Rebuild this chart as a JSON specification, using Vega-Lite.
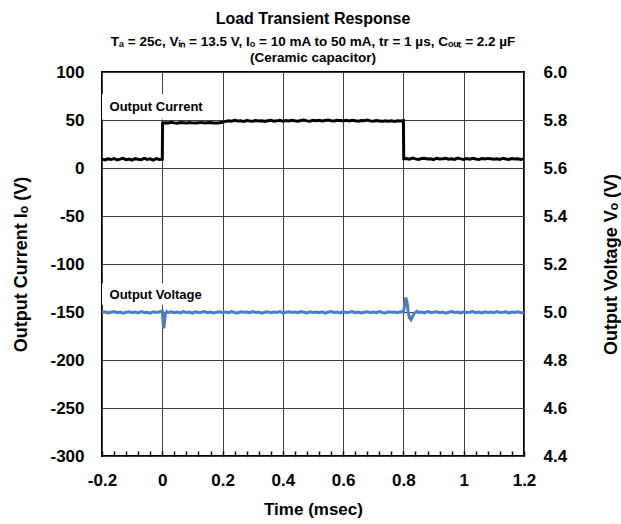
{
  "$schema": "https://vega.github.io/schema/vega-lite/v6.json",
  "width": 422,
  "height": 384,
  "autosize": {"type": "none"},
  "padding": {"left": 102, "top": 72, "right": 97, "bottom": 68},
  "config": {
    "font": "Liberation Sans",
    "view": {"stroke": "black", "strokeWidth": 2},
    "axis": {
      "labelFont": "Liberation Sans",
      "labelFontWeight": "bold",
      "labelFontSize": 17,
      "labelColor": "black",
      "titleFont": "Liberation Sans",
      "titleFontWeight": "bold",
      "titleFontSize": 17,
      "titleColor": "black",
      "domain": false,
      "ticks": false,
      "labelFlush": false,
      "gridColor": "#404040",
      "gridOpacity": 1,
      "gridWidth": 1
    }
  },
  "title": {
    "text": "Load Transient Response",
    "subtitle": ["Tₐ = 25c, Vᵢₙ = 13.5 V, Iₒ = 10 mA to 50 mA, tr = 1 µs, Cₒᵤₜ = 2.2 µF", "(Ceramic capacitor)"],
    "font": "Liberation Sans",
    "fontSize": 16,
    "fontWeight": "bold",
    "color": "black",
    "subtitleFont": "Liberation Sans",
    "subtitleFontSize": 13.5,
    "subtitleFontWeight": "bold",
    "subtitleColor": "black",
    "subtitleLineHeight": 16,
    "subtitlePadding": 8,
    "offset": -1
  },
  "datasets": {
    "current": [
      {"t": -0.2, "i": 9.3}, {"t": -0.19, "i": 8.4}, {"t": -0.18, "i": 9.6}, {"t": -0.17, "i": 8.8}, {"t": -0.16, "i": 9.9},
      {"t": -0.15, "i": 8.5}, {"t": -0.14, "i": 9.2}, {"t": -0.13, "i": 10.1}, {"t": -0.12, "i": 8.7}, {"t": -0.11, "i": 9.4},
      {"t": -0.1, "i": 8.3}, {"t": -0.09, "i": 9.7}, {"t": -0.08, "i": 9.0}, {"t": -0.07, "i": 8.6}, {"t": -0.06, "i": 10.0},
      {"t": -0.05, "i": 8.9}, {"t": -0.04, "i": 9.5}, {"t": -0.03, "i": 8.2}, {"t": -0.02, "i": 9.8}, {"t": -0.01, "i": 8.8},
      {"t": 0.0, "i": 9.1}, {"t": 0.001, "i": 47.0},
      {"t": 0.01, "i": 47.2}, {"t": 0.02, "i": 46.8}, {"t": 0.03, "i": 47.5}, {"t": 0.04, "i": 47.0}, {"t": 0.05, "i": 46.7},
      {"t": 0.06, "i": 47.3}, {"t": 0.07, "i": 47.1}, {"t": 0.08, "i": 46.9}, {"t": 0.09, "i": 47.4}, {"t": 0.1, "i": 47.0},
      {"t": 0.11, "i": 46.8}, {"t": 0.12, "i": 47.2}, {"t": 0.13, "i": 47.5}, {"t": 0.14, "i": 46.9}, {"t": 0.15, "i": 47.1},
      {"t": 0.16, "i": 47.3}, {"t": 0.17, "i": 46.8}, {"t": 0.18, "i": 47.0}, {"t": 0.19, "i": 47.2}, {"t": 0.2, "i": 47.6},
      {"t": 0.21, "i": 48.6}, {"t": 0.22, "i": 49.3}, {"t": 0.23, "i": 48.8}, {"t": 0.24, "i": 49.6}, {"t": 0.25, "i": 48.9},
      {"t": 0.26, "i": 49.2}, {"t": 0.27, "i": 48.5}, {"t": 0.28, "i": 49.4}, {"t": 0.29, "i": 49.0}, {"t": 0.3, "i": 48.7},
      {"t": 0.31, "i": 49.5}, {"t": 0.32, "i": 48.9}, {"t": 0.33, "i": 49.2}, {"t": 0.34, "i": 48.6}, {"t": 0.35, "i": 49.3},
      {"t": 0.36, "i": 49.8}, {"t": 0.37, "i": 48.8}, {"t": 0.38, "i": 49.1}, {"t": 0.39, "i": 49.6}, {"t": 0.4, "i": 48.7},
      {"t": 0.41, "i": 49.4}, {"t": 0.42, "i": 48.9}, {"t": 0.43, "i": 49.7}, {"t": 0.44, "i": 49.2}, {"t": 0.45, "i": 48.8},
      {"t": 0.46, "i": 49.5}, {"t": 0.47, "i": 49.9}, {"t": 0.48, "i": 49.1}, {"t": 0.49, "i": 48.7}, {"t": 0.5, "i": 49.6},
      {"t": 0.51, "i": 49.3}, {"t": 0.52, "i": 49.8}, {"t": 0.53, "i": 49.0}, {"t": 0.54, "i": 49.5}, {"t": 0.55, "i": 49.9},
      {"t": 0.56, "i": 49.2}, {"t": 0.57, "i": 48.9}, {"t": 0.58, "i": 49.7}, {"t": 0.59, "i": 49.4}, {"t": 0.6, "i": 49.1},
      {"t": 0.61, "i": 49.6}, {"t": 0.62, "i": 49.0}, {"t": 0.63, "i": 49.8}, {"t": 0.64, "i": 49.3}, {"t": 0.65, "i": 48.8},
      {"t": 0.66, "i": 49.5}, {"t": 0.67, "i": 49.2}, {"t": 0.68, "i": 49.9}, {"t": 0.69, "i": 49.1}, {"t": 0.7, "i": 48.7},
      {"t": 0.71, "i": 49.4}, {"t": 0.72, "i": 49.0}, {"t": 0.73, "i": 48.6}, {"t": 0.74, "i": 49.3}, {"t": 0.75, "i": 48.8},
      {"t": 0.76, "i": 49.1}, {"t": 0.77, "i": 48.5}, {"t": 0.78, "i": 49.2}, {"t": 0.79, "i": 48.9}, {"t": 0.8, "i": 49.3},
      {"t": 0.801, "i": 9.8},
      {"t": 0.81, "i": 9.9}, {"t": 0.82, "i": 9.2}, {"t": 0.83, "i": 10.3}, {"t": 0.84, "i": 9.5}, {"t": 0.85, "i": 8.9},
      {"t": 0.86, "i": 9.8}, {"t": 0.87, "i": 10.1}, {"t": 0.88, "i": 9.3}, {"t": 0.89, "i": 9.7}, {"t": 0.9, "i": 8.8},
      {"t": 0.91, "i": 10.2}, {"t": 0.92, "i": 9.4}, {"t": 0.93, "i": 9.6}, {"t": 0.94, "i": 10.0}, {"t": 0.95, "i": 9.1},
      {"t": 0.96, "i": 9.7}, {"t": 0.97, "i": 8.9}, {"t": 0.98, "i": 10.3}, {"t": 0.99, "i": 9.5}, {"t": 1.0, "i": 9.0},
      {"t": 1.01, "i": 9.8}, {"t": 1.02, "i": 9.2}, {"t": 1.03, "i": 10.1}, {"t": 1.04, "i": 9.4}, {"t": 1.05, "i": 8.8},
      {"t": 1.06, "i": 9.9}, {"t": 1.07, "i": 9.3}, {"t": 1.08, "i": 10.0}, {"t": 1.09, "i": 9.6}, {"t": 1.1, "i": 9.1},
      {"t": 1.11, "i": 9.7}, {"t": 1.12, "i": 8.9}, {"t": 1.13, "i": 10.2}, {"t": 1.14, "i": 9.4}, {"t": 1.15, "i": 9.0},
      {"t": 1.16, "i": 9.8}, {"t": 1.17, "i": 9.3}, {"t": 1.18, "i": 9.6}, {"t": 1.19, "i": 8.9}, {"t": 1.2, "i": 9.5}
    ],
    "voltage": [
      {"t": -0.2, "v": 4.998}, {"t": -0.19, "v": 5.001}, {"t": -0.18, "v": 4.996}, {"t": -0.17, "v": 4.999}, {"t": -0.16, "v": 5.002},
      {"t": -0.15, "v": 4.997}, {"t": -0.14, "v": 5.0}, {"t": -0.13, "v": 4.995}, {"t": -0.12, "v": 4.999}, {"t": -0.11, "v": 5.001},
      {"t": -0.1, "v": 4.997}, {"t": -0.09, "v": 5.0}, {"t": -0.08, "v": 4.996}, {"t": -0.07, "v": 5.002}, {"t": -0.06, "v": 4.998},
      {"t": -0.05, "v": 4.999}, {"t": -0.04, "v": 4.995}, {"t": -0.03, "v": 5.001}, {"t": -0.02, "v": 4.998}, {"t": -0.01, "v": 5.0},
      {"t": 0.0, "v": 5.004}, {"t": 0.003, "v": 4.95}, {"t": 0.005, "v": 4.932}, {"t": 0.007, "v": 4.955}, {"t": 0.01, "v": 4.992},
      {"t": 0.015, "v": 5.002}, {"t": 0.02, "v": 4.998},
      {"t": 0.03, "v": 5.001}, {"t": 0.04, "v": 4.997}, {"t": 0.05, "v": 5.0}, {"t": 0.06, "v": 4.996}, {"t": 0.07, "v": 5.002},
      {"t": 0.08, "v": 4.998}, {"t": 0.09, "v": 5.0}, {"t": 0.1, "v": 4.995}, {"t": 0.11, "v": 5.001}, {"t": 0.12, "v": 4.998},
      {"t": 0.13, "v": 4.999}, {"t": 0.14, "v": 5.002}, {"t": 0.15, "v": 4.997}, {"t": 0.16, "v": 5.0}, {"t": 0.17, "v": 4.996},
      {"t": 0.18, "v": 4.999}, {"t": 0.19, "v": 5.001}, {"t": 0.2, "v": 4.998}, {"t": 0.21, "v": 5.0}, {"t": 0.22, "v": 4.997},
      {"t": 0.23, "v": 5.002}, {"t": 0.24, "v": 4.998}, {"t": 0.25, "v": 4.996}, {"t": 0.26, "v": 5.001}, {"t": 0.27, "v": 4.999},
      {"t": 0.28, "v": 5.0}, {"t": 0.29, "v": 4.997}, {"t": 0.3, "v": 5.002}, {"t": 0.31, "v": 4.998}, {"t": 0.32, "v": 5.0},
      {"t": 0.33, "v": 4.995}, {"t": 0.34, "v": 4.999}, {"t": 0.35, "v": 5.001}, {"t": 0.36, "v": 4.997}, {"t": 0.37, "v": 5.0},
      {"t": 0.38, "v": 4.998}, {"t": 0.39, "v": 5.002}, {"t": 0.4, "v": 4.996}, {"t": 0.41, "v": 4.999}, {"t": 0.42, "v": 5.001},
      {"t": 0.43, "v": 4.998}, {"t": 0.44, "v": 5.0}, {"t": 0.45, "v": 4.997}, {"t": 0.46, "v": 5.002}, {"t": 0.47, "v": 4.999},
      {"t": 0.48, "v": 4.996}, {"t": 0.49, "v": 5.001}, {"t": 0.5, "v": 4.998}, {"t": 0.51, "v": 5.0}, {"t": 0.52, "v": 4.997},
      {"t": 0.53, "v": 5.001}, {"t": 0.54, "v": 4.995}, {"t": 0.55, "v": 4.999}, {"t": 0.56, "v": 5.002}, {"t": 0.57, "v": 4.998},
      {"t": 0.58, "v": 5.0}, {"t": 0.59, "v": 4.996}, {"t": 0.6, "v": 5.001}, {"t": 0.61, "v": 4.998}, {"t": 0.62, "v": 4.999},
      {"t": 0.63, "v": 5.002}, {"t": 0.64, "v": 4.997}, {"t": 0.65, "v": 5.0}, {"t": 0.66, "v": 4.996}, {"t": 0.67, "v": 4.999},
      {"t": 0.68, "v": 5.001}, {"t": 0.69, "v": 4.998}, {"t": 0.7, "v": 5.0}, {"t": 0.71, "v": 4.997}, {"t": 0.72, "v": 5.002},
      {"t": 0.73, "v": 4.998}, {"t": 0.74, "v": 4.996}, {"t": 0.75, "v": 5.001}, {"t": 0.76, "v": 4.999}, {"t": 0.77, "v": 5.0},
      {"t": 0.78, "v": 4.997}, {"t": 0.79, "v": 5.001}, {"t": 0.8, "v": 4.999},
      {"t": 0.804, "v": 5.03}, {"t": 0.808, "v": 5.06}, {"t": 0.812, "v": 5.04}, {"t": 0.816, "v": 5.0}, {"t": 0.82, "v": 4.976},
      {"t": 0.825, "v": 4.968}, {"t": 0.83, "v": 4.98}, {"t": 0.836, "v": 4.995}, {"t": 0.845, "v": 5.003},
      {"t": 0.85, "v": 4.998}, {"t": 0.86, "v": 5.0}, {"t": 0.87, "v": 4.996}, {"t": 0.88, "v": 5.002}, {"t": 0.89, "v": 4.998},
      {"t": 0.9, "v": 4.999}, {"t": 0.91, "v": 5.001}, {"t": 0.92, "v": 4.997}, {"t": 0.93, "v": 5.0}, {"t": 0.94, "v": 4.995},
      {"t": 0.95, "v": 4.999}, {"t": 0.96, "v": 5.002}, {"t": 0.97, "v": 4.998}, {"t": 0.98, "v": 5.0}, {"t": 0.99, "v": 4.996},
      {"t": 1.0, "v": 5.001}, {"t": 1.01, "v": 4.998}, {"t": 1.02, "v": 4.999}, {"t": 1.03, "v": 5.002}, {"t": 1.04, "v": 4.997},
      {"t": 1.05, "v": 5.0}, {"t": 1.06, "v": 4.996}, {"t": 1.07, "v": 5.001}, {"t": 1.08, "v": 4.998}, {"t": 1.09, "v": 5.0},
      {"t": 1.1, "v": 4.997}, {"t": 1.11, "v": 5.002}, {"t": 1.12, "v": 4.998}, {"t": 1.13, "v": 4.999}, {"t": 1.14, "v": 5.001},
      {"t": 1.15, "v": 4.996}, {"t": 1.16, "v": 5.0}, {"t": 1.17, "v": 4.998}, {"t": 1.18, "v": 5.001}, {"t": 1.19, "v": 4.997},
      {"t": 1.2, "v": 4.999}
    ],
    "labels": [
      {"name": "Output Current", "t0": -0.2, "t1": 0.19, "lo": 50.5, "hi": 77, "tx": -0.175, "ty": 64}
    ],
    "vlabels": [
      {"name": "Output Voltage", "t0": -0.2, "t1": 0.19, "lo": 5.03, "hi": 5.12, "tx": -0.175, "ty": 5.07}
    ]
  },
  "layer": [
    {
      "layer": [
        {
          "data": {"name": "labels"},
          "mark": {"type": "rect", "fill": "white"},
          "encoding": {
            "x": {"field": "t0", "type": "quantitative", "scale": {"domain": [-0.2, 1.2], "nice": false, "zero": false},
              "axis": {
                "values": [-0.2, -0.16, -0.12, -0.08, -0.04, 0, 0.04, 0.08, 0.12, 0.16, 0.2, 0.24, 0.28, 0.32, 0.36, 0.4, 0.44, 0.48, 0.52, 0.56, 0.6, 0.64, 0.68, 0.72, 0.76, 0.8, 0.84, 0.88, 0.92, 0.96, 1, 1.04, 1.08, 1.12, 1.16, 1.2],
                "tickCount": 100,
                "labelExpr": "abs(datum.value * 5 - round(datum.value * 5)) < 0.001 ? replace(format(datum.value, '~g'), '−', '-') : ''",
                "labelOverlap": false,
                "grid": true,
                "gridOpacity": {"condition": {"test": "abs(datum.value * 5 - round(datum.value * 5)) < 0.001", "value": 1}, "value": 0},
                "ticks": true,
                "tickSize": -5,
                "tickWidth": 1.5,
                "tickColor": "black",
                "labelPadding": 21,
                "title": "Time (msec)",
                "titlePadding": 13
              }},
            "x2": {"field": "t1"},
            "y": {"field": "lo", "type": "quantitative", "scale": {"domain": [-300, 100], "nice": false, "zero": false},
              "axis": {"values": [-300, -250, -200, -150, -100, -50, 0, 50, 100], "tickCount": 20, "labelExpr": "replace(datum.label, '−', '-')", "grid": true, "labelPadding": 18, "title": "Output Current Iₒ (V)", "titleFontSize": 18, "titlePadding": 19}},
            "y2": {"field": "hi"}
          }
        },
        {
          "data": {"name": "labels"},
          "mark": {"type": "text", "align": "left", "baseline": "middle", "font": "Liberation Sans", "fontWeight": "bold", "fontSize": 13, "color": "black"},
          "encoding": {
            "x": {"field": "tx", "type": "quantitative"},
            "y": {"field": "ty", "type": "quantitative"},
            "text": {"field": "name"}
          }
        },
        {
          "data": {"name": "current"},
          "mark": {"type": "line", "color": "black", "strokeWidth": 3, "strokeJoin": "miter"},
          "encoding": {
            "x": {"field": "t", "type": "quantitative"},
            "y": {"field": "i", "type": "quantitative"}
          }
        }
      ]
    },
    {
      "layer": [
        {
          "data": {"name": "vlabels"},
          "mark": {"type": "rect", "fill": "white"},
          "encoding": {
            "x": {"field": "t0", "type": "quantitative"},
            "x2": {"field": "t1"},
            "y": {"field": "lo", "type": "quantitative", "scale": {"domain": [4.4, 6.0], "nice": false, "zero": false},
              "axis": {"orient": "right", "values": [4.4, 4.6, 4.8, 5.0, 5.2, 5.4, 5.6, 5.8, 6.0], "tickCount": 20, "format": ".1f", "grid": false, "labelPadding": 19, "title": "Output Voltage Vₒ (V)", "titleFontSize": 18, "titleAngle": 270, "titlePadding": 54}},
            "y2": {"field": "hi"}
          }
        },
        {
          "data": {"name": "vlabels"},
          "mark": {"type": "text", "align": "left", "baseline": "middle", "font": "Liberation Sans", "fontWeight": "bold", "fontSize": 13, "color": "black"},
          "encoding": {
            "x": {"field": "tx", "type": "quantitative"},
            "y": {"field": "ty", "type": "quantitative"},
            "text": {"field": "name"}
          }
        },
        {
          "data": {"name": "voltage"},
          "mark": {"type": "line", "color": "#4a7ebf", "strokeWidth": 3},
          "encoding": {
            "x": {"field": "t", "type": "quantitative"},
            "y": {"field": "v", "type": "quantitative"}
          }
        }
      ]
    }
  ],
  "resolve": {"scale": {"y": "independent"}}
}
